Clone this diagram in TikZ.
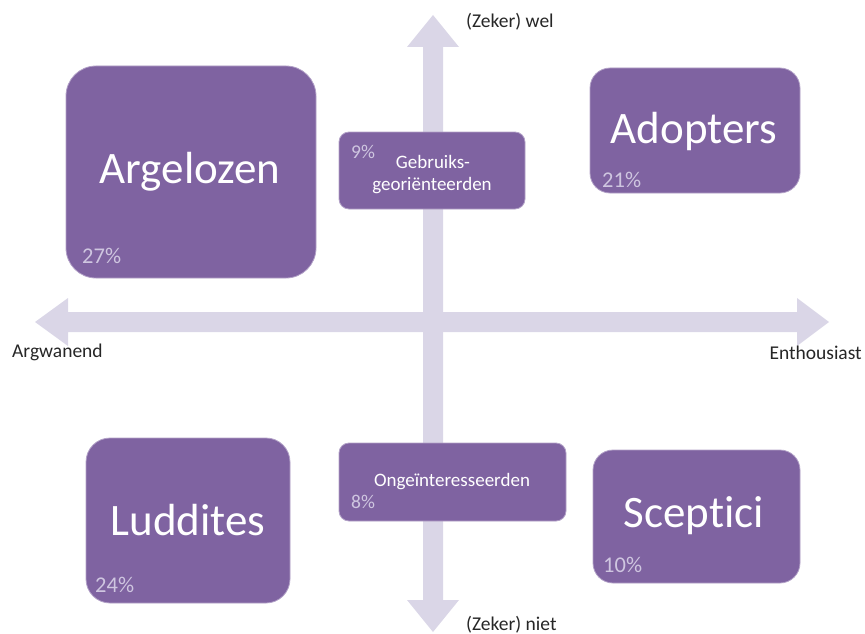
\documentclass[tikz,border=0pt]{standalone}
\usepackage{fontspec}
\setmainfont{Carlito}[Ligatures=NoCommon]
\begin{document}
\definecolor{boxpurple}{HTML}{7F63A1}
\definecolor{axisgrey}{HTML}{DAD6E7}
\definecolor{pctgrey}{HTML}{CFC6E0}
\begin{tikzpicture}[x=1pt,y=-1pt,
  quadbox/.style={fill=boxpurple,draw=boxpurple!60!white,line width=0.8pt},
  bigname/.style={text=white,font=\fontsize{45}{50}\selectfont},
  smallname/.style={text=white,font=\fontsize{19}{22}\selectfont,align=center},
  pct/.style={text=pctgrey,font=\fontsize{22.5}{25}\selectfont,anchor=west,inner sep=0pt},
  smallpct/.style={text=pctgrey,font=\fontsize{19.5}{22}\selectfont,anchor=west,inner sep=0pt},
  axislabel/.style={text=black!85,font=\fontsize{19.5}{22}\selectfont,inner sep=0pt},
  axis/.style={fill=axisgrey,draw=none}]
\useasboundingbox (0,0) rectangle (865,634);

% vertical axis arrow
\fill[axis] (433,15) -- (459,47) -- (443,47) -- (443,600) -- (459,600)
  -- (433,632) -- (407,600) -- (423,600) -- (423,47) -- (407,47) -- cycle;
% horizontal axis arrow
\fill[axis] (35,322) -- (68,298) -- (68,312) -- (797,312) -- (797,298)
  -- (829,322) -- (797,346) -- (797,332) -- (68,332) -- (68,346) -- cycle;

\node[axislabel,anchor=west] (wel) at (466,22) {(Zeker) wel};
\node[axislabel,anchor=west] (niet) at (466,625) {(Zeker) niet};
\node[axislabel,anchor=west] (argw) at (12,352) {Argwanend};
\node[axislabel,anchor=east] (enth) at (862,353) {Enthousiast};

% quadrant boxes
\draw[quadbox,rounded corners=30pt] (66,66) rectangle (316,278);
\node[bigname] (argelozen) at (190,172) {Argelozen};
\node[pct] (p27) at (82,256) {27\%};

\draw[quadbox,rounded corners=20pt] (590,68) rectangle (800,193);
\node[bigname] (adopters) at (694,132) {Adopters};
\node[pct] (p21) at (602,180) {21\%};

\draw[quadbox,rounded corners=24pt] (86,438) rectangle (290,603);
\node[bigname] (luddites) at (188,520) {Luddites};
\node[pct] (p24) at (95,585) {24\%};

\draw[quadbox,rounded corners=20pt] (593,450) rectangle (800,583);
\node[bigname] (sceptici) at (694,516) {Sceptici};
\node[pct] (p10) at (603,565) {10\%};

% central boxes
\draw[quadbox,rounded corners=10pt] (339,132) rectangle (525,209);
\node[smallname] (gebr1) at (433,162) {Gebruiks-};
\node[smallname] (gebr2) at (432,186) {georiënteerden};
\node[smallpct] (p9) at (351,152) {9\%};

\draw[quadbox,rounded corners=10pt] (339,443) rectangle (566,521);
\node[smallname] (onge) at (452,482) {Ongeïnteresseerden};
\node[smallpct] (p8) at (351,502) {8\%};
\end{tikzpicture}
\end{document}
